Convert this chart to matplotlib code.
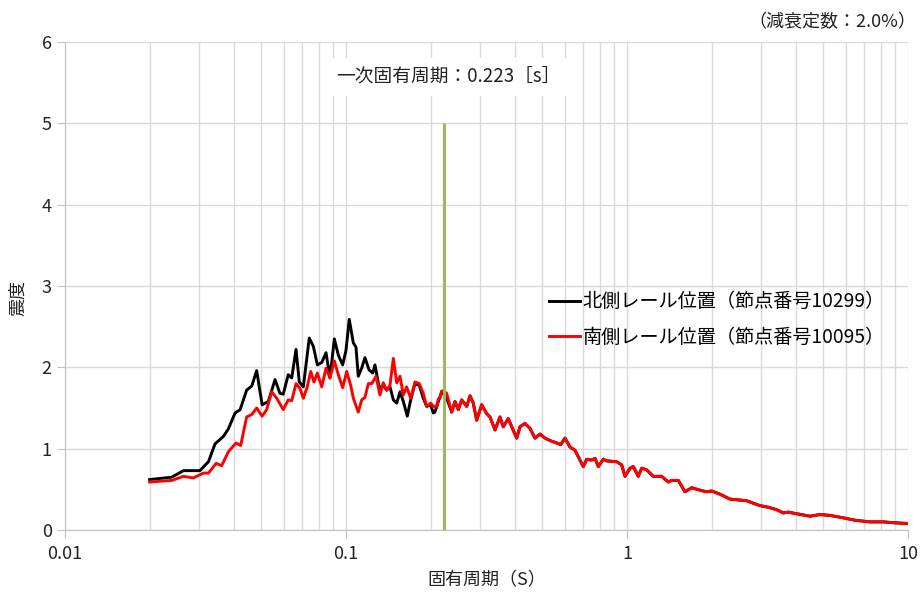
import numpy as np
import matplotlib
matplotlib.use("Agg")
import matplotlib.pyplot as plt
from matplotlib.ticker import LogLocator, NullFormatter

plt.rcParams['font.family'] = ['Noto Sans CJK JP', 'DejaVu Sans']

# north rail (node 10299), part that differs from the south rail
north_period = [0.0200, 0.0240, 0.0264, 0.0302, 0.0324, 0.0342, 0.0366, 0.0381, 0.0403, 0.0420,
                0.0443, 0.0462, 0.0481, 0.0503, 0.0529, 0.0559, 0.0582, 0.0598, 0.0623, 0.0641,
                0.0664, 0.0682, 0.0705, 0.0740, 0.0765, 0.0791, 0.0820, 0.0849, 0.0877, 0.0909,
                0.0939, 0.0973, 0.1000, 0.1027, 0.1062, 0.1085, 0.1106, 0.1137, 0.1168, 0.1208,
                0.1245, 0.1268, 0.1314, 0.1357, 0.1396, 0.1434, 0.1474, 0.1515, 0.1557, 0.1600,
                0.1652, 0.1699, 0.1760, 0.1823, 0.1884, 0.1937, 0.2001, 0.2045, 0.2073, 0.2131,
                0.2191, 0.2282]
north_shake = [0.62, 0.65, 0.73, 0.73, 0.84, 1.06, 1.15, 1.24, 1.44, 1.48,
               1.72, 1.77, 1.96, 1.54, 1.58, 1.85, 1.68, 1.67, 1.91, 1.87,
               2.22, 1.82, 1.76, 2.36, 2.26, 2.03, 2.06, 2.18, 1.87, 2.35,
               2.15, 2.03, 2.21, 2.59, 2.30, 2.25, 1.89, 1.99, 2.12, 1.97,
               1.93, 2.03, 1.74, 1.78, 1.72, 1.76, 1.60, 1.56, 1.70, 1.58,
               1.40, 1.60, 1.80, 1.78, 1.62, 1.52, 1.54, 1.44, 1.45, 1.58,
               1.70, 1.62]

# south rail (node 10095), part that differs from the north rail
south_period = [0.0200, 0.0240, 0.0264, 0.0286, 0.0311, 0.0324, 0.0345, 0.0361, 0.0381, 0.0406,
                0.0422, 0.0443, 0.0462, 0.0481, 0.0503, 0.0522, 0.0544, 0.0567, 0.0598, 0.0623,
                0.0641, 0.0664, 0.0686, 0.0705, 0.0728, 0.0749, 0.0769, 0.0791, 0.0820, 0.0849,
                0.0877, 0.0909, 0.0939, 0.0973, 0.1006, 0.1039, 0.1062, 0.1106, 0.1137, 0.1168,
                0.1201, 0.1235, 0.1279, 0.1321, 0.1357, 0.1396, 0.1434, 0.1474, 0.1515, 0.1557,
                0.1600, 0.1644, 0.1699, 0.1760, 0.1823, 0.1884, 0.1937, 0.2001, 0.2045, 0.2102,
                0.2131, 0.2160, 0.2191, 0.2220, 0.2282]
south_shake = [0.59, 0.61, 0.66, 0.64, 0.70, 0.70, 0.82, 0.79, 0.96, 1.07,
               1.04, 1.39, 1.42, 1.50, 1.40, 1.48, 1.70, 1.62, 1.48, 1.60,
               1.59, 1.80, 1.74, 1.62, 1.76, 1.95, 1.82, 1.93, 1.76, 1.99,
               1.87, 2.08, 1.91, 1.75, 1.95, 1.78, 1.62, 1.45, 1.60, 1.63,
               1.80, 1.80, 1.89, 1.66, 1.81, 1.72, 1.78, 2.11, 1.81, 1.89,
               1.66, 1.76, 1.62, 1.82, 1.80, 1.68, 1.52, 1.56, 1.52, 1.52,
               1.61, 1.62, 1.71, 1.71, 1.68]

# long-period part, both rails practically identical
tail_period = [0.2378, 0.2443, 0.2510, 0.2581, 0.2689, 0.2763, 0.2838, 0.2918, 0.3040, 0.3168,
               0.3255, 0.3391, 0.3532, 0.3629, 0.3781, 0.3888, 0.4050, 0.4161, 0.4335, 0.4516,
               0.4706, 0.4903, 0.5108, 0.5321, 0.5623, 0.5808, 0.6018, 0.6270, 0.6531, 0.6804,
               0.6991, 0.7188, 0.7489, 0.7694, 0.7905, 0.8236, 0.8466, 0.9190, 0.9574, 0.9838,
               1.025, 1.053, 1.097, 1.128, 1.175, 1.240, 1.329, 1.403, 1.442, 1.523,
               1.608, 1.699, 1.819, 1.921, 2.001, 2.143, 2.326, 2.489, 2.667, 2.815,
               2.973, 3.183, 3.410, 3.599, 3.750, 4.017, 4.479, 4.863, 5.277, 5.886,
               6.478, 7.323, 8.169, 8.867, 10.0]
tail_shake = [1.45, 1.58, 1.48, 1.60, 1.52, 1.65, 1.56, 1.35, 1.54, 1.43,
              1.39, 1.23, 1.39, 1.27, 1.37, 1.27, 1.13, 1.27, 1.31, 1.25,
              1.13, 1.18, 1.13, 1.10, 1.07, 1.05, 1.13, 1.02, 0.98, 0.86,
              0.78, 0.87, 0.86, 0.88, 0.78, 0.87, 0.85, 0.84, 0.80, 0.66,
              0.76, 0.78, 0.66, 0.76, 0.74, 0.66, 0.66, 0.59, 0.61, 0.61,
              0.47, 0.52, 0.49, 0.47, 0.48, 0.44, 0.38, 0.37, 0.36, 0.33,
              0.30, 0.28, 0.25, 0.21, 0.22, 0.20, 0.17, 0.19, 0.18, 0.15,
              0.12, 0.10, 0.10, 0.09, 0.08]

natural_period = 0.223
x_ticks = [0.01, 0.1, 1, 10]
x_ticklabels = ["0.01", "0.1", "1", "10"]
y_ticks = [0, 1, 2, 3, 4, 5, 6]

fig = plt.figure(figsize=(9.22, 5.96), dpi=100)
ax = fig.add_axes([0.0705, 0.1107, 0.9143, 0.8188])

grid_c = "#D9D9D9"
text_c = "#222222"
ax.set_xscale("log")
ax.set_xlim(0.01, 10)
ax.set_ylim(0, 6)
ax.set_xticks(x_ticks)
ax.set_xticklabels(x_ticklabels)
ax.xaxis.set_minor_locator(LogLocator(base=10, subs=np.arange(2, 10)))
ax.xaxis.set_minor_formatter(NullFormatter())
ax.set_yticks(y_ticks)
ax.grid(True, which="both", axis="x", color=grid_c, lw=1.0)
ax.grid(True, which="major", axis="y", color=grid_c, lw=1.0)
ax.set_axisbelow(True)

for s in ["top", "right"]:
    ax.spines[s].set_visible(False)
for s in ["left", "bottom"]:
    ax.spines[s].set_color("#BFBFBF")
ax.tick_params(axis="both", which="major", colors="#BFBFBF", length=6, labelcolor=text_c, labelsize=13)
ax.tick_params(axis="x", which="minor", length=0)
ax.tick_params(axis="x", which="major", pad=5)

ax.plot(north_period + tail_period, north_shake + tail_shake, color="black", lw=2.1,
        label="北側レール位置（節点番号10299）")
ax.plot(south_period + tail_period, south_shake + tail_shake, color="#FF0000", lw=2.1,
        label="南側レール位置（節点番号10095）")

ax.vlines(natural_period, 0, 5, color="#9BBB59", lw=2.2, zorder=3)
ax.text(0.232, 5.57, "一次固有周期：0.223［s］", ha="center", va="center", fontsize=13.5,
        color=text_c, bbox=dict(facecolor="white", edgecolor="none", pad=6))

ax.set_xlabel("固有周期（S）", fontsize=13, color=text_c, labelpad=6)
ax.set_ylabel("震度", fontsize=13, color=text_c)
ax.yaxis.set_label_coords(-0.045, 0.475)

ax.legend(loc="upper left", bbox_to_anchor=(0.565, 0.505), frameon=False, fontsize=13.8,
          handlelength=1.6, handletextpad=0.15, labelspacing=0.75, borderaxespad=0)

fig.text(0.994, 0.963, "（減衰定数：2.0%）", ha="right", va="center", fontsize=13, color=text_c)

fig.savefig("out.png", dpi=100)
